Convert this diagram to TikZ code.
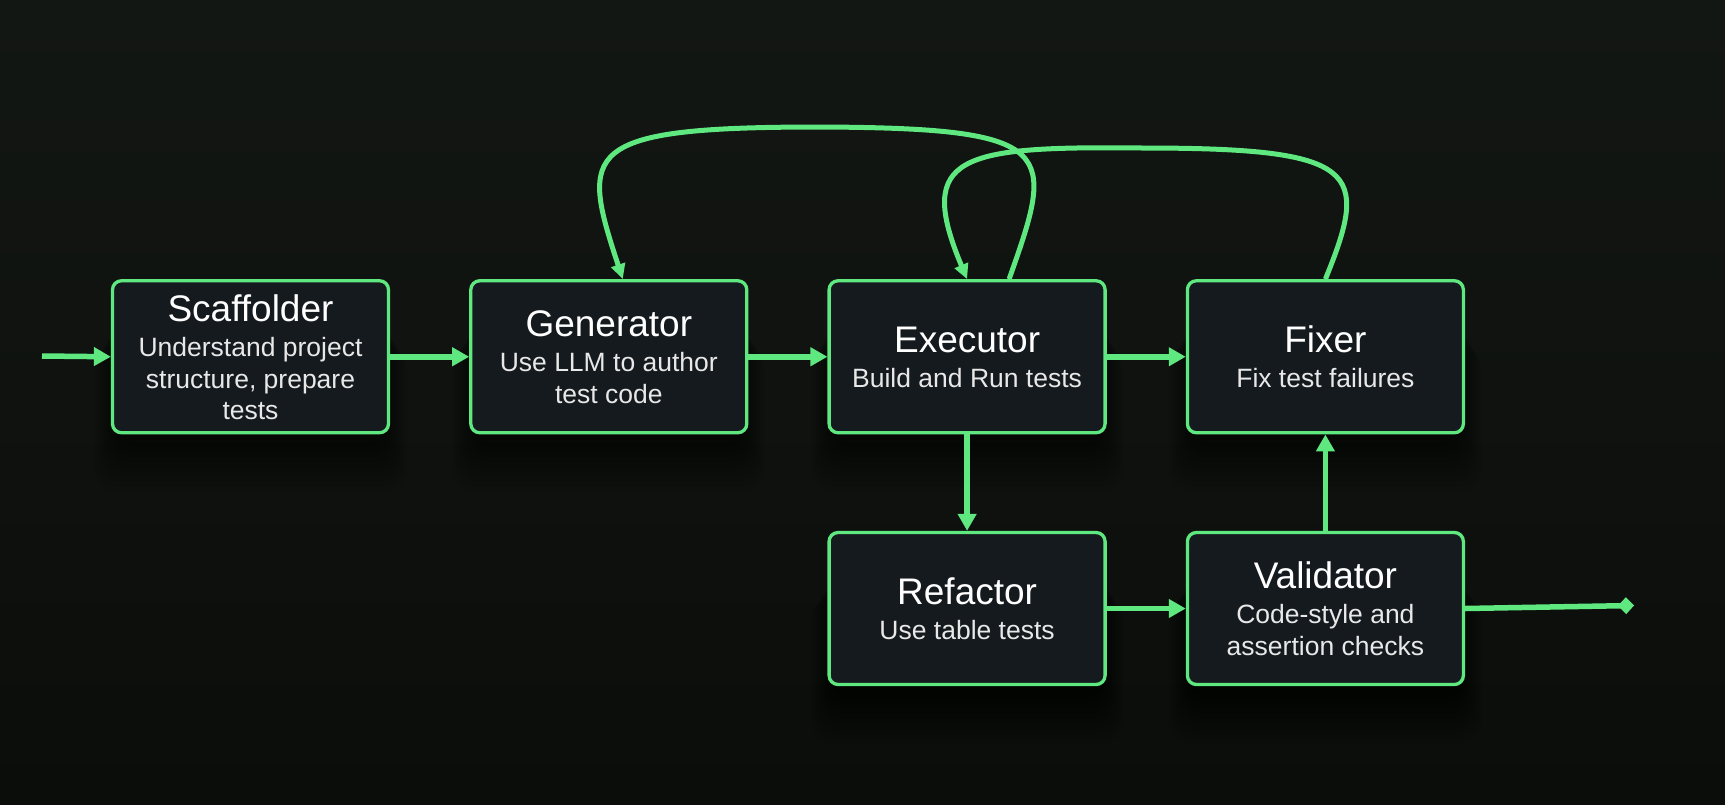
\documentclass[tikz,border=0pt]{standalone}
\usepackage{fontspec}
\setmainfont{Liberation Sans}
\usetikzlibrary{arrows.meta,calc}
\definecolor{bgtop}{RGB}{19,23,19}
\definecolor{bgbot}{RGB}{11,13,11}
\definecolor{gr}{RGB}{95,232,128}
\definecolor{boxfill}{RGB}{21,26,30}
\definecolor{subtxt}{RGB}{232,232,232}
\begin{document}
\begin{tikzpicture}[x=1pt,y=-1pt,
  box/.style={draw=gr, line width=3.3pt, fill=boxfill, rounded corners=9pt,
    minimum width=276pt, minimum height=152pt, inner sep=0pt},
  ttl/.style={anchor=base, text=white, font=\fontsize{37}{37}\selectfont},
  sub/.style={anchor=base, text=subtxt, font=\fontsize{26.5}{26.5}\selectfont},
  flow/.style={draw=gr, line width=5.5pt, -{Triangle[length=17pt,width=18pt]}},
  loopflow/.style={draw=gr, line width=5pt, -{Triangle[length=15pt,width=14pt]}},
  outflow/.style={draw=gr, line width=5.5pt, -{Diamond[length=16pt,width=17pt]}}]
\useasboundingbox (0,0) rectangle (1725,804);
\shade[top color=bgtop,bottom color=bgbot] (0,0) rectangle (1725,804);
% soft shadows
\foreach \cx/\cy in {250.5/356.75, 608.8/356.75, 967.1/356.75, 1325.4/356.75, 967.1/608.5, 1325.4/608.5}{
  \foreach \i in {1,...,10}{
    \fill[black, opacity=0.04, rounded corners=22pt]
      (\cx-136-\i*2, \cy-40+\i*3) rectangle (\cx+136+\i*2, \cy+85+\i*5);
  }
}
% boxes
\node[box] (scaf) at (250.5,356.75) {};
\node[box] (gen)  at (608.8,356.75) {};
\node[box] (exec) at (967.1,356.75) {};
\node[box] (fix)  at (1325.4,356.75) {};
\node[box] (ref)  at (967.1,608.5) {};
\node[box] (val)  at (1325.4,608.5) {};
% texts
\node[ttl] (scafT) at ($(scaf.center)+(0,-35)$) {Scaffolder};
\node[sub] (scafA) at ($(scaf.center)+(0,0)$) {Understand project};
\node[sub] (scafB) at ($(scaf.center)+(0,31.5)$) {structure, prepare};
\node[sub] (scafC) at ($(scaf.center)+(0,62.5)$) {tests};
\node[ttl] (genT) at ($(gen.center)+(0,-20)$) {Generator};
\node[sub] (genA) at ($(gen.center)+(0,15)$) {Use LLM to author};
\node[sub] (genB) at ($(gen.center)+(0,46.5)$) {test code};
\node[ttl] (execT) at ($(exec.center)+(0,-4)$) {Executor};
\node[sub] (execA) at ($(exec.center)+(0,30.5)$) {Build and Run tests};
\node[ttl] (fixT) at ($(fix.center)+(0,-4)$) {Fixer};
\node[sub] (fixA) at ($(fix.center)+(0,30.5)$) {Fix test failures};
\node[ttl] (refT) at ($(ref.center)+(0,-4)$) {Refactor};
\node[sub] (refA) at ($(ref.center)+(0,31)$) {Use table tests};
\node[ttl] (valT) at ($(val.center)+(0,-20)$) {Validator};
\node[sub] (valA) at ($(val.center)+(0,15)$) {Code-style and};
\node[sub] (valB) at ($(val.center)+(0,47)$) {assertion checks};
% connectors
\coordinate (in) at (42,356);
\coordinate (out) at (1634,605.5);
\draw[flow] (in) -- (scaf.west);
\draw[flow] (scaf) -- (gen);
\draw[flow] (gen) -- (exec);
\draw[flow] (exec) -- (fix);
\draw[flow] (exec) -- (ref);
\draw[flow] (ref) -- (val);
\draw[flow] (val) -- (fix);
\draw[outflow] (val.east) -- (out);
\draw[loopflow] ($(exec.north)+(42,0)$) .. controls (1055,150) and (1060,128) .. (820,127)
  .. controls (580,127) and (580,150) .. ($(gen.north)+(14,0)$);
\draw[loopflow] (fix.north) .. controls (1370,170) and (1360,148) .. (1142,148)
  .. controls (960,146) and (915,155) .. (exec.north);
\end{tikzpicture}
\end{document}
